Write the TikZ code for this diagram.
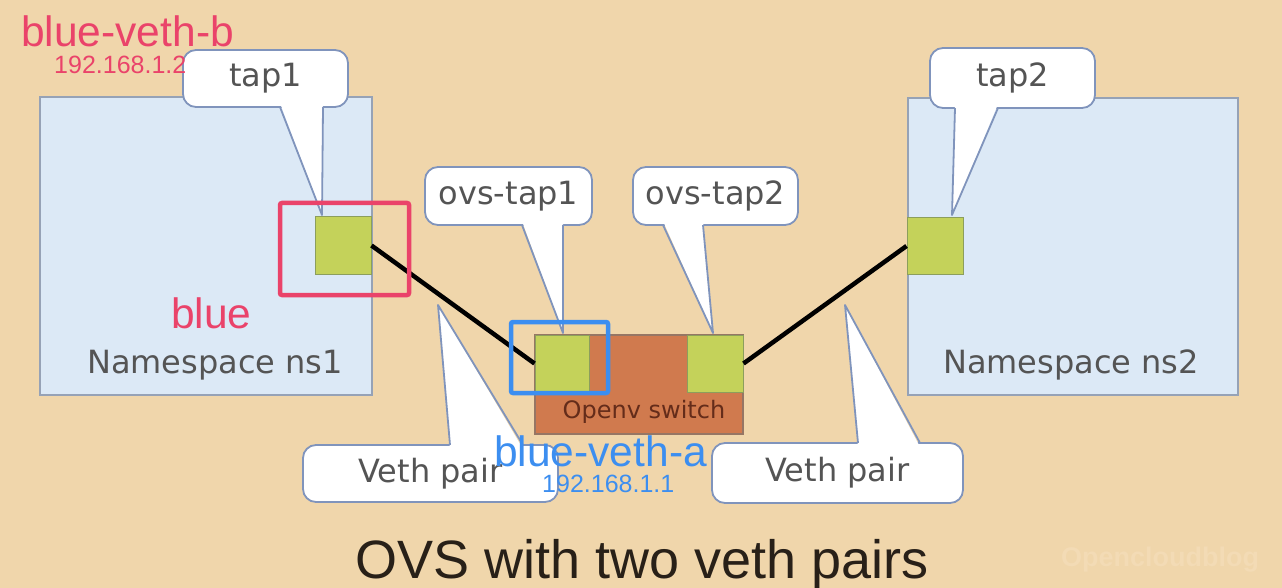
\documentclass[tikz,border=0pt]{standalone}
\usepackage{fontspec}
\setmainfont{Liberation Sans}
\newfontfamily\slidefont{DejaVu Sans}
\usepackage{tikz}
\usetikzlibrary{calc}
\definecolor{peach}{RGB}{240,214,171}
\definecolor{nsblue}{RGB}{220,233,246}
\definecolor{nsline}{RGB}{150,162,182}
\definecolor{portgreen}{RGB}{196,210,90}
\definecolor{portline}{RGB}{140,158,92}
\definecolor{ovsorange}{RGB}{208,122,78}
\definecolor{ovsline}{RGB}{150,118,100}
\definecolor{ovstext}{RGB}{100,44,26}
\definecolor{bubbleline}{RGB}{128,148,188}
\definecolor{slidegray}{RGB}{84,84,84}
\definecolor{titlegray}{RGB}{40,32,24}
\definecolor{wmark}{RGB}{243,219,181}
\definecolor{notered}{RGB}{234,67,106}
\definecolor{noteblue}{RGB}{60,142,240}
\tikzstyle{slidetext} = [font=\slidefont\fontsize{32}{32}\selectfont, text=slidegray]
\tikzset{
  % box styles
  nsbox/.style={rectangle, draw=nsline, line width=1.5pt, fill=nsblue, inner sep=0pt},
  port/.style={rectangle, draw=portline, line width=1pt, fill=portgreen, inner sep=0pt},
  ovs/.style={rectangle, draw=ovsline, line width=1.5pt, fill=ovsorange, inner sep=0pt},
  bubble/.style={slidetext, rectangle, rounded corners=13pt, draw=bubbleline, line width=1.8pt, fill=white, inner sep=0pt},
  % link and note styles
  link/.style={line width=4.5pt, black},
  tail/.style={draw=bubbleline, line width=1.8pt, line join=round},
  redmark/.style={draw=notered, line width=4.5pt, rounded corners=2pt},
  bluemark/.style={draw=noteblue, line width=4.5pt, rounded corners=2pt},
  bignote/.style={font=\fontsize{42.5}{42.5}\selectfont, inner sep=0pt, anchor=base west},
  smallnote/.style={font=\fontsize{25}{25}\selectfont, inner sep=0pt, anchor=base west},
}

\begin{document}
\begin{tikzpicture}[x=1pt, y=-1pt]
        \useasboundingbox (0,0) rectangle (1282,588);
        \fill[peach] (0,0) rectangle (1282,588);
        % namespaces
        \node(ns1)[nsbox, minimum width=332pt, minimum height=298pt] at (206,246) {};
        \node(ns2)[nsbox, minimum width=330pt, minimum height=297pt] at (1073,246.5) {};
        \node(ns1txt)[slidetext, anchor=base, inner sep=0pt] at (215,373) {Namespace ns1};
        \node(ns2txt)[slidetext, anchor=base, inner sep=0pt] at (1071,373) {Namespace ns2};
        % ports and switch
        \node(tap1)[port, minimum width=56pt, minimum height=57pt] at (343,245.5) {};
        \node(tap2)[port, minimum width=56pt, minimum height=57pt] at (935,246) {};
        \node(ovs)[ovs, minimum width=208pt, minimum height=99pt] at (639,384.5) {};
        \node(ovs1)[port, minimum width=54pt, minimum height=57pt] at (562,363.5) {};
        \node(ovs2)[port, minimum width=56pt, minimum height=57pt] at (715,363.5) {};
        \node(ovstxt)[font=\slidefont\fontsize{24}{24}\selectfont, text=ovstext, anchor=base, inner sep=0pt] at (644,418) {Openv switch};
        % veth links
        \draw[link] (tap1.east) -- (ovs1.west);
        \draw[link] (ovs2.east) -- (tap2.west);
        % callouts
        \node(btap1)[bubble, minimum width=165pt, minimum height=57pt] at (265.5,78.5) {tap1};
        \node(btap2)[bubble, minimum width=165pt, minimum height=60pt] at (1012.5,78) {tap2};
        \node(bovs1)[bubble, minimum width=167pt, minimum height=58pt] at (508.5,196) {ovs-tap1};
        \node(bovs2)[bubble, minimum width=165pt, minimum height=58pt] at (715.5,196) {ovs-tap2};
        \node(bveth1)[bubble, minimum width=255pt, minimum height=57pt] at (430.5,473.5) {Veth pair};
        \node(bveth2)[bubble, minimum width=251pt, minimum height=60pt] at (837.5,473) {Veth pair};
        \foreach \ax/\bx/\by/\fy/\tx/\ty in {280/323/107/103/322/215, 955/998/108/104/952/215,
            522/563/225/221/563/333, 663/703/225/221/713/333,
            450/523/445/449/438/305, 858/920/443/447/845/305}{
            \fill[white] (\ax,\fy) -- (\tx,\ty) -- (\bx,\fy) -- cycle;
            \draw[tail] (\ax,\by) -- (\tx,\ty) -- (\bx,\by);
        }
        % notes
        \draw[redmark] (280,203) rectangle (409,295);
        \draw[bluemark] (511,322) rectangle (608,393);
        \node(vethb)[bignote, text=notered] at (21,47) {blue-veth-b};
        \node(ipb)[smallnote, text=notered] at (54,74) {192.168.1.2};
        \node(nsname)[bignote, text=notered] at (171,328) {blue};
        \node(vetha)[bignote, text=noteblue] at (494,466) {blue-veth-a};
        \node(ipa)[smallnote, text=noteblue] at (542,492) {192.168.1.1};
        % title
        \node(title)[font=\fontsize{54}{54}\selectfont, text=titlegray, anchor=base, inner sep=0pt] at (642,578) {OVS with two veth pairs};
        \node(wm)[font=\bfseries\fontsize{27}{27}\selectfont, text=wmark, anchor=base west, inner sep=0pt] at (1061,566) {Opencloudblog};
    \end{tikzpicture}
\end{document}
